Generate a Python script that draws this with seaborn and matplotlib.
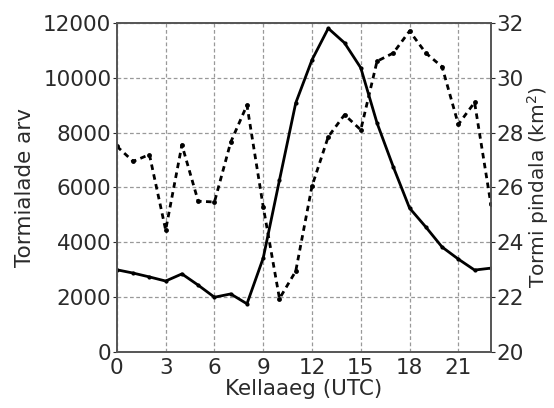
import matplotlib
matplotlib.use("Agg")
import matplotlib.pyplot as plt
import seaborn as sns
import pandas as pd

hours = list(range(24))
storm_count = [3000, 2880, 2740, 2590, 2850, 2440, 2000, 2120, 1760, 3430,
               6270, 9080, 10650, 11800, 11270, 10360, 8350, 6750, 5250, 4560,
               3830, 3390, 2990, 3060]
storm_area = [27.5, 26.95, 27.2, 24.45, 27.55, 25.5, 25.47, 27.65, 29.0, 25.3,
              21.95, 22.95, 26.05, 27.85, 28.65, 28.1, 30.6, 30.9, 31.7, 30.9,
              30.4, 28.3, 29.1, 25.4]
xticks = [0, 3, 6, 9, 12, 15, 18, 21]
left_ticks = [0, 2000, 4000, 6000, 8000, 10000, 12000]
right_ticks = [20, 22, 24, 26, 28, 30, 32]

df = pd.DataFrame({"hour": hours, "count": storm_count, "area": storm_area})

sns.set_theme(style="white")
plt.rcParams["font.family"] = ["DejaVu Sans"]

fig = plt.figure(figsize=(5.54, 4.08), dpi=100)
ax = fig.add_axes([0.211, 0.137, 0.675, 0.807])
ax2 = ax.twinx()

sns.lineplot(data=df, x="hour", y="count", ax=ax, color="black", lw=2.0,
             marker="o", markersize=3, markeredgewidth=0)
sns.lineplot(data=df, x="hour", y="area", ax=ax2, color="black", lw=2.0,
             linestyle=(0, (2, 1.6)), marker="o", markersize=3.5, markeredgewidth=0)

ax.set_xlim(0, 23)
ax.set_ylim(0, 12000)
ax2.set_ylim(20, 32)
ax.set_xticks(xticks)
ax.set_yticks(left_ticks)
ax2.set_yticks(right_ticks)

fs = 15.5
tc = "#2a2a2a"
ax.tick_params(axis="both", labelsize=fs, length=3, width=0.8, direction="out",
               colors=tc, pad=1)
ax2.tick_params(axis="y", labelsize=fs, length=3, width=0.8, direction="out",
                colors=tc, pad=1)
ax.set_xlabel("Kellaaeg (UTC)", fontsize=fs, color=tc, labelpad=1)
ax.set_ylabel("Tormialade arv", fontsize=fs, color=tc, labelpad=6)
ax2.set_ylabel("Tormi pindala (km$^2$)", fontsize=14.5, color=tc, labelpad=1)

ax.grid(True, color="#999999", linestyle=(0, (3, 2)), linewidth=0.9)
ax2.grid(False)
for a in (ax, ax2):
    for s in a.spines.values():
        s.set_color("#555555")
        s.set_linewidth(1.2)

fig.savefig("out.png", dpi=100)
